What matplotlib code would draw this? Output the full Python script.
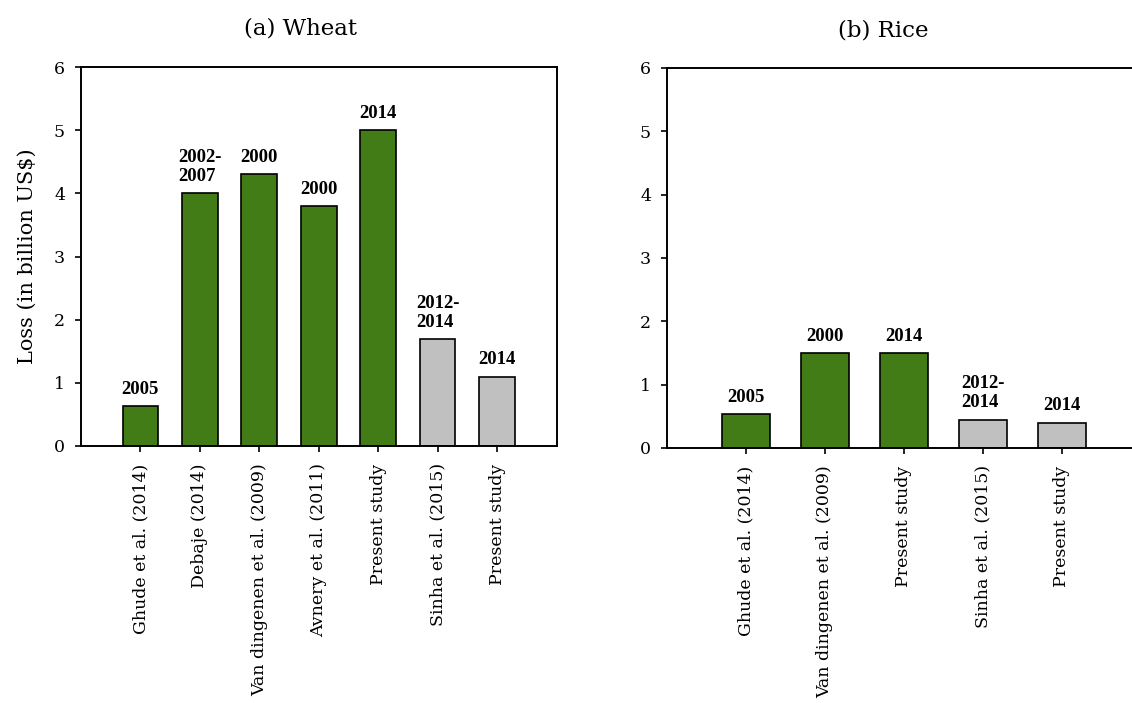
import numpy as np
import matplotlib
matplotlib.use("Agg")
import matplotlib.pyplot as plt

# wheat losses
wheat_studies = ["Ghude et al. (2014)", "Debaje (2014)", "Van dingenen et al. (2009)",
                 "Avnery et al. (2011)", "Present study", "Sinha et al. (2015)", "Present study"]
wheat_loss = [0.63, 4.0, 4.3, 3.8, 5.0, 1.69, 1.1]
wheat_years = ["2005", "2002-\n2007", "2000", "2000", "2014", "2012-\n2014", "2014"]
wheat_group = ["g", "g", "g", "g", "g", "s", "s"]

# rice losses
rice_studies = ["Ghude et al. (2014)", "Van dingenen et al. (2009)", "Present study",
                "Sinha et al. (2015)", "Present study"]
rice_loss = [0.53, 1.5, 1.5, 0.45, 0.4]
rice_years = ["2005", "2000", "2014", "2012-\n2014", "2014"]
rice_group = ["g", "g", "g", "s", "s"]

colors = {"g": "#427C17", "s": "#C0C0C0"}
serif = "DejaVu Serif"
bold_serif = "Liberation Serif"

W, H = 1132, 703
fig = plt.figure(figsize=(W / 100, H / 100), dpi=100)


def box(l, r, t, b):
    return [l / W, 1 - b / H, (r - l) / W, (b - t) / H]


def panel(ax, studies, loss, years, group, xmax):
    x = np.arange(len(studies))
    ax.bar(x, loss, width=0.6, color=[colors[g] for g in group],
           edgecolor="black", linewidth=1.2, zorder=2)
    for xi, v, yr in zip(x, loss, years):
        ax.annotate(yr, (xi, v), xytext=(0, 6), textcoords="offset points",
                    ha="center", va="bottom", multialignment="left",
                    fontsize=13.5, fontweight="bold", family=bold_serif,
                    linespacing=1.15)
    ax.set_xlim(-1, xmax)
    ax.set_ylim(0, 6)
    ax.set_xticks(x)
    ax.set_xticklabels(studies, rotation=90, fontsize=12.5, family=serif)
    ax.set_yticks(range(7))
    ax.set_yticklabels([str(i) for i in range(7)], fontsize=12.5, family=serif)
    ax.tick_params(axis="both", direction="out", length=4.5, width=1.2)
    ax.tick_params(axis="y", pad=7)
    ax.tick_params(axis="x", pad=8)
    for s in ax.spines.values():
        s.set_linewidth(1.4)


ax1 = fig.add_axes(box(81, 556.5, 67, 446))
panel(ax1, wheat_studies, wheat_loss, wheat_years, wheat_group, 7)
ax1.set_ylabel("Loss (in billion US$)", fontsize=15, family=serif, labelpad=12)

ax2 = fig.add_axes(box(667, 1141, 68, 448))
panel(ax2, rice_studies, rice_loss, rice_years, rice_group, 5)

fig.text(300 / W, 1 - 28 / H, "(a) Wheat", ha="center", va="center",
         fontsize=16.5, family=serif)
fig.text(883 / W, 1 - 31 / H, "(b) Rice", ha="center", va="center",
         fontsize=16.5, family=serif)

fig.savefig("out.png", dpi=100)
